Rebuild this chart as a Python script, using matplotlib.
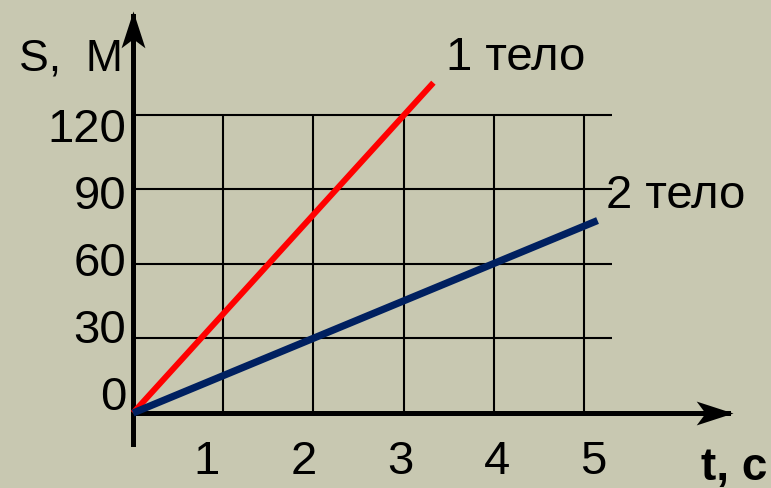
import matplotlib.pyplot as plt
import numpy as np
from matplotlib.path import Path as MPath

# data
body1_t = [0, 3.33]
body1_s = [0, 133]
body2_t = [0, 5.15]
body2_s = [0, 77.5]

t_ticks = [1, 2, 3, 4, 5]
s_ticks = [0, 30, 60, 90, 120]
grid_t_max = 5.31
grid_s_max = 120

BG = "#c8c8b1"
RED = "#ff0000"
NAVY = "#002060"
W, H = 771, 489

plt.rcParams["font.family"] = ["Liberation Sans", "DejaVu Sans"]


def arrow_marker(direction):
    # notched arrow head with the tip at the origin
    verts = np.array([[0, 0], [-37, 12], [-28, 0], [-37, -12], [0, 0]], dtype=float)
    if direction == "up":
        verts = verts[:, ::-1]
    codes = [MPath.MOVETO, MPath.LINETO, MPath.LINETO, MPath.LINETO, MPath.CLOSEPOLY]
    return MPath(verts, codes)


fig = plt.figure(figsize=(W / 100, H / 100), dpi=100)
fig.patch.set_facecolor(BG)
ax = fig.add_axes([0, 0, 1, 1])
ax.set_facecolor(BG)

ax.set_xlim(-1.475, 7.073)
ax.set_ylim(-30.2, 166.7)

for side in ["top", "right"]:
    ax.spines[side].set_visible(False)
ax.spines["left"].set_position(("data", 0))
ax.spines["bottom"].set_position(("data", 0))
ax.spines["left"].set_bounds(-12.5, 160)
ax.spines["bottom"].set_bounds(0, 6.6)
ax.spines["left"].set_linewidth(3.6)
ax.spines["bottom"].set_linewidth(3.6)
ax.set_xticks([])
ax.set_yticks([])

# arrow heads
ax.plot([6.65], [0], marker=arrow_marker("right"), markersize=53, color="black",
        markeredgewidth=0, clip_on=False)
ax.plot([0], [162], marker=arrow_marker("up"), markersize=53, color="black",
        markeredgewidth=0, clip_on=False)

# grid
ax.vlines(t_ticks, 0, grid_s_max, color="black", linewidth=1.5, zorder=1)
ax.hlines(s_ticks[1:], 0, grid_t_max, color="black", linewidth=1.5, zorder=1)

ax.plot(body1_t, body1_s, color=RED, linewidth=4.3, solid_capstyle="butt", zorder=3)
ax.plot(body2_t, body2_s, color=NAVY, linewidth=5.2, solid_capstyle="butt", zorder=4)

# the tick labels in the picture are spaced a bit wider/narrower than the grid,
# so they get their own transparent axes
lab = fig.add_axes([0, 0, 1, 1], zorder=5)
lab.patch.set_visible(False)
lab.set_xlim(-110 / 96.75, (W - 110) / 96.75)
lab.set_ylim((393 - H) / 2.2333, 393 / 2.2333)
for side in ["top", "right"]:
    lab.spines[side].set_visible(False)
lab.spines["left"].set_position(("axes", 133 / W))
lab.spines["bottom"].set_position(("axes", 1 - 414 / H))
lab.spines["left"].set_visible(False)
lab.spines["bottom"].set_visible(False)
lab.set_xticks(t_ticks)
lab.set_xticklabels([str(t) for t in t_ticks])
lab.set_yticks(s_ticks)
lab.set_yticklabels([str(s) for s in s_ticks])
lab.tick_params(axis="both", length=0, labelsize=34, colors="black")
lab.tick_params(axis="x", pad=19)
lab.tick_params(axis="y", pad=5)

ax.text(-0.11, 138.5, "S,  М", fontsize=32, ha="right", va="baseline")
ax.text(7.03, -26.6, "t, с", fontsize=33, fontweight="bold", ha="right", va="baseline")
ax.text(3.47, 138.5, "1 тело", fontsize=34, ha="left", va="baseline")
ax.text(5.24, 83.0, "2 тело", fontsize=34, ha="left", va="baseline")

fig.savefig("out.png", dpi=100, facecolor=BG)
